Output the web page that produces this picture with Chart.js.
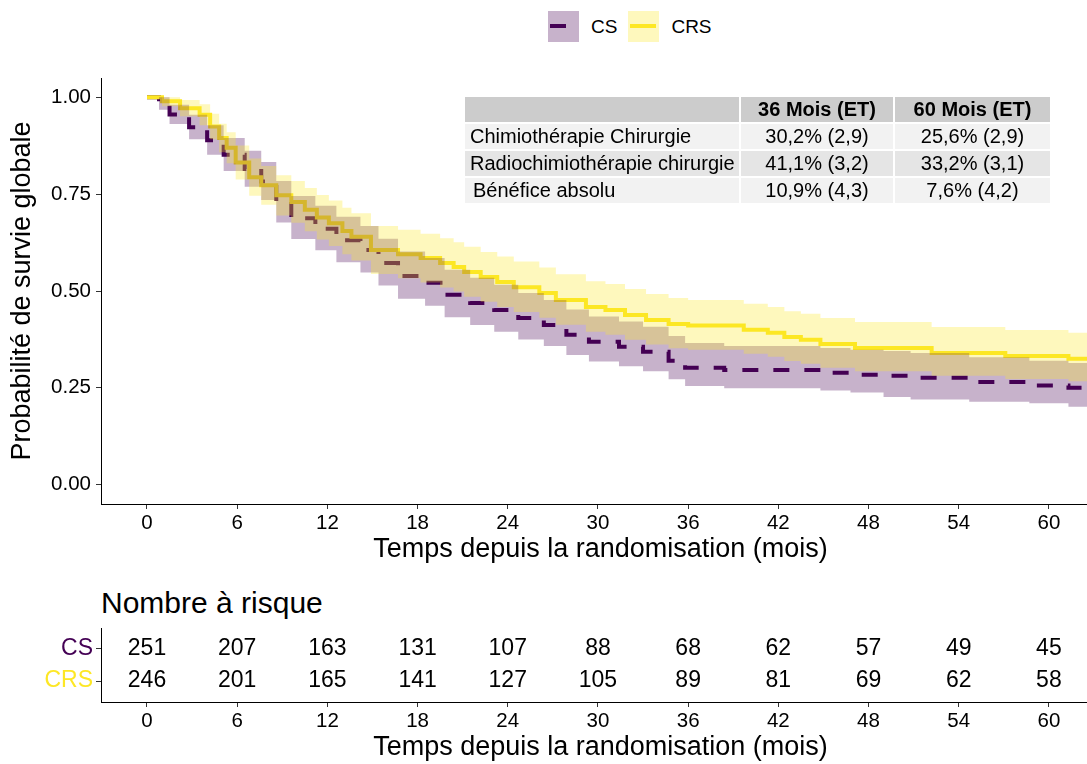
<!DOCTYPE html>
<html>
<head>
<meta charset="utf-8">
<script src="https://cdn.jsdelivr.net/npm/chart.js@4.4.1/dist/chart.umd.min.js"></script>
<style>
  html, body { margin: 0; padding: 0; background: #ffffff; }
  #wrap { position: relative; width: 1087px; height: 764px; overflow: hidden; font-family: "Liberation Sans", Arial, sans-serif; color: #000; }
  canvas { position: absolute; left: 0; }
  #legend { position: absolute; top: 11px; left: 548px; height: 31px; display: flex; align-items: center; font-size: 19px; }
  .key { position: relative; width: 31px; height: 31px; }
  .key span { position: absolute; left: 2px; top: 13px; height: 4px; }
  .lab { margin-left: 12px; margin-right: 11px; }
  #survTable { position: absolute; left: 463px; top: 95px; border-collapse: separate; border-spacing: 2px; table-layout: fixed; font-size: 20px; }
  #survTable td { height: 25px; padding: 0; white-space: nowrap; overflow: visible; line-height: 25px; }
  #survTable td.name { text-align: left; padding-left: 5px; }
  #survTable td.num { text-align: center; }
  #survTable tr.head td { background: #cccccc; font-weight: bold; }
  #riskTitle { position: absolute; left: 101px; top: 585px; font-size: 30px; line-height: 36px; }
</style>
</head>
<body>
<div id="wrap">
  <div id="legend"></div>
  <canvas id="survChart" width="1100" height="570" style="top:0px"></canvas>
  <table id="survTable"></table>
  <div id="riskTitle">Nombre à risque</div>
  <canvas id="riskChart" width="1100" height="184" style="top:580px"></canvas>
</div>
<script>
// Kaplan-Meier estimates (months, survival probability) with 95% confidence limits
const groups = ['CS', 'CRS'];
const groupColors = ['#440154', '#FDE725'];

const csTime  = [0, 0.8, 1.5, 2.8, 4.0, 5.1, 6.5, 7.6, 8.6, 9.6, 11.2, 12.6, 14.2, 15.4, 16.7, 18.5, 19.8, 21.5, 23.1, 24.7, 26.4, 27.9, 29.4, 31.4, 33.0, 34.7, 35.8, 38.4, 44.8, 46.8, 49.0, 50.8, 54.7, 58.7, 61.3, 63.4];
const csSurv  = [1.000, 0.985, 0.956, 0.923, 0.889, 0.852, 0.815, 0.783, 0.729, 0.688, 0.661, 0.631, 0.606, 0.572, 0.539, 0.521, 0.490, 0.469, 0.451, 0.430, 0.412, 0.387, 0.369, 0.356, 0.343, 0.320, 0.302, 0.296, 0.289, 0.284, 0.281, 0.276, 0.265, 0.256, 0.250, 0.250];
const csUpper = [1.000, 1.000, 0.981, 0.955, 0.928, 0.895, 0.862, 0.833, 0.784, 0.745, 0.720, 0.692, 0.668, 0.635, 0.602, 0.585, 0.555, 0.534, 0.516, 0.495, 0.477, 0.452, 0.434, 0.421, 0.408, 0.384, 0.366, 0.358, 0.353, 0.348, 0.345, 0.340, 0.329, 0.320, 0.314, 0.314];
const csLower = [1.000, 0.968, 0.931, 0.892, 0.852, 0.810, 0.769, 0.735, 0.677, 0.634, 0.605, 0.574, 0.548, 0.514, 0.480, 0.462, 0.432, 0.412, 0.395, 0.375, 0.358, 0.335, 0.318, 0.306, 0.293, 0.272, 0.255, 0.249, 0.243, 0.238, 0.226, 0.220, 0.214, 0.210, 0.201, 0.201];

const crsTime  = [0, 1.0, 2.2, 3.5, 4.2, 4.8, 5.3, 5.9, 6.8, 7.6, 8.6, 9.6, 10.5, 11.3, 12.1, 13.0, 13.6, 14.9, 16.7, 18.2, 19.5, 20.4, 21.1, 22.2, 23.3, 24.4, 26.1, 27.2, 29.2, 30.5, 31.8, 33.2, 34.7, 36.0, 39.7, 41.3, 42.4, 43.5, 44.8, 47.1, 52.2, 57.1, 61.3, 63.4];
const crsSurv  = [1.000, 0.990, 0.972, 0.955, 0.925, 0.895, 0.870, 0.832, 0.794, 0.773, 0.747, 0.730, 0.710, 0.690, 0.675, 0.655, 0.640, 0.606, 0.595, 0.585, 0.572, 0.562, 0.549, 0.536, 0.523, 0.510, 0.495, 0.477, 0.459, 0.451, 0.438, 0.425, 0.415, 0.411, 0.400, 0.392, 0.381, 0.374, 0.363, 0.353, 0.340, 0.332, 0.325, 0.325];
const crsUpper = [1.000, 1.000, 0.993, 0.982, 0.958, 0.932, 0.910, 0.876, 0.842, 0.823, 0.799, 0.784, 0.766, 0.748, 0.734, 0.715, 0.701, 0.668, 0.658, 0.648, 0.636, 0.626, 0.614, 0.601, 0.589, 0.576, 0.561, 0.543, 0.525, 0.518, 0.505, 0.492, 0.482, 0.477, 0.467, 0.459, 0.448, 0.441, 0.430, 0.420, 0.407, 0.399, 0.392, 0.392];
const crsLower = [1.000, 0.977, 0.951, 0.928, 0.892, 0.858, 0.830, 0.788, 0.746, 0.723, 0.695, 0.676, 0.654, 0.633, 0.616, 0.595, 0.579, 0.544, 0.533, 0.522, 0.509, 0.499, 0.485, 0.472, 0.459, 0.446, 0.431, 0.413, 0.395, 0.387, 0.374, 0.362, 0.352, 0.348, 0.338, 0.330, 0.319, 0.312, 0.302, 0.293, 0.281, 0.273, 0.267, 0.267];

// Axis ticks
const xTicks = [0, 6, 12, 18, 24, 30, 36, 42, 48, 54, 60];
const yTicks = [0, 0.25, 0.5, 0.75, 1];
const yTickLabels = ['0.00', '0.25', '0.50', '0.75', '1.00'];

// Number at risk
const riskTimes = [0, 6, 12, 18, 24, 30, 36, 42, 48, 54, 60];
const riskCS  = [251, 207, 163, 131, 107, 88, 68, 62, 57, 49, 45];
const riskCRS = [246, 201, 165, 141, 127, 105, 89, 81, 69, 62, 58];

// Survival summary table
const tableHeader = ['', '36 Mois (ET)', '60 Mois (ET)'];
const tableRowNames = ['Chimiothérapie Chirurgie', 'Radiochimiothérapie chirurgie', 'Bénéfice absolu'];
const table36 = ['30,2% (2,9)', '41,1% (3,2)', '10,9% (4,3)'];
const table60 = ['25,6% (2,9)', '33,2% (3,1)', '7,6% (4,2)'];

const xTitle = 'Temps depuis la randomisation (mois)';
const yTitle = 'Probabilité de survie globale';

const FONT = '"Liberation Sans", Arial, sans-serif';
const xMin = -3.06, xMax = 63.4;

const pts = (t, v) => t.map((x, i) => ({ x: x, y: v[i] }));
const ribbon = (t, v, col, fillTo) => ({
  data: pts(t, v), stepped: true, borderWidth: 0, pointRadius: 0,
  backgroundColor: col, fill: fillTo
});

// Legend
const legend = document.getElementById('legend');
[['rgba(68,1,84,0.3)', '#440154', 16], ['rgba(253,231,37,0.3)', '#FDE725', 26]].forEach((k, i) => {
  const key = document.createElement('div');
  key.className = 'key';
  key.style.background = k[0];
  const seg = document.createElement('span');
  seg.style.background = k[1];
  seg.style.width = k[2] + 'px';
  key.appendChild(seg);
  const lab = document.createElement('div');
  lab.className = 'lab';
  lab.textContent = groups[i];
  legend.appendChild(key);
  legend.appendChild(lab);
});

// Table
const tbl = document.getElementById('survTable');
const colW = [269, 152, 155];
const head = document.createElement('tr');
head.className = 'head';
tableHeader.forEach((h, j) => {
  const td = document.createElement('td');
  td.textContent = h;
  td.style.width = colW[j] + 'px';
  td.className = j === 0 ? 'name' : 'num';
  head.appendChild(td);
});
tbl.appendChild(head);
const rowBg = ['#f2f2f2', '#e5e5e5', '#f2f2f2'];
tableRowNames.forEach((n, i) => {
  const tr = document.createElement('tr');
  [n, table36[i], table60[i]].forEach((v, j) => {
    const td = document.createElement('td');
    td.textContent = v;
    td.className = j === 0 ? 'name' : 'num';
    td.style.background = rowBg[i];
    if (j === 0 && i === 2) td.style.paddingLeft = '8px';
    tr.appendChild(td);
  });
  tbl.appendChild(tr);
});

const axisCommon = {
  grid: { display: true, drawOnChartArea: false, drawTicks: true, tickLength: 5, color: '#333333', lineWidth: 1 },
  border: { display: true, color: '#000000', width: 1 }
};

// Survival curves: lines first, confidence ribbons painted over them
new Chart(document.getElementById('survChart'), {
  type: 'line',
  data: {
    datasets: [
      ribbon(crsTime, crsUpper, 'rgba(253,231,37,0.3)', '+1'),
      ribbon(crsTime, crsLower, 'rgba(0,0,0,0)', false),
      ribbon(csTime, csUpper, 'rgba(68,1,84,0.3)', '+1'),
      ribbon(csTime, csLower, 'rgba(0,0,0,0)', false),
      { label: 'CRS', data: pts(crsTime, crsSurv), stepped: true, borderColor: '#FDE725', borderWidth: 4, pointRadius: 0, fill: false },
      { label: 'CS', data: pts(csTime, csSurv), stepped: true, borderColor: '#440154', borderWidth: 4, borderDash: [16, 15], borderCapStyle: 'butt', pointRadius: 0, fill: false }
    ]
  },
  options: {
    responsive: false, animation: false, devicePixelRatio: 1,
    layout: { padding: { top: 78, left: 0, right: 0, bottom: 0 } },
    plugins: { legend: { display: false }, tooltip: { enabled: false }, filler: { drawTime: 'beforeDatasetDraw' } },
    scales: {
      x: Object.assign({}, axisCommon, {
        type: 'linear', min: xMin, max: xMax,
        afterBuildTicks: s => { s.ticks = xTicks.map(v => ({ value: v })); },
        afterFit: s => { s.height = 66; },
        ticks: { color: '#000', font: { family: FONT, size: 20.5 }, padding: 2, maxRotation: 0, autoSkip: false },
        title: { display: true, text: xTitle, color: '#000', font: { family: FONT, size: 27 }, padding: { top: 0, bottom: 4 } }
      }),
      y: Object.assign({}, axisCommon, {
        type: 'linear', min: -0.05, max: 1.05,
        afterBuildTicks: s => { s.ticks = yTicks.map(v => ({ value: v })); },
        afterFit: s => { s.width = 101; },
        ticks: { color: '#000', font: { family: FONT, size: 20.5 }, padding: 5,
                 callback: (v) => yTickLabels[yTicks.indexOf(v)] },
        title: { display: true, text: yTitle, color: '#000', font: { family: FONT, size: 27 }, padding: { top: 6, bottom: 0 } }
      })
    }
  }
});

// Number-at-risk table drawn on the shared time axis
const riskNumbers = {
  id: 'riskNumbers',
  afterDatasetsDraw(chart) {
    const { ctx, scales: { x, y } } = chart;
    ctx.save();
    ctx.font = '23px ' + FONT;
    ctx.fillStyle = '#000';
    ctx.textAlign = 'center';
    ctx.textBaseline = 'middle';
    [[riskCS, 2], [riskCRS, 1]].forEach(([row, pos]) => {
      row.forEach((n, i) => ctx.fillText(String(n), x.getPixelForValue(riskTimes[i]), y.getPixelForValue(pos)));
    });
    ctx.restore();
  }
};

new Chart(document.getElementById('riskChart'), {
  type: 'line',
  data: { datasets: [{ data: [], pointRadius: 0 }] },
  plugins: [riskNumbers],
  options: {
    responsive: false, animation: false, devicePixelRatio: 1,
    layout: { padding: { top: 48, left: 0, right: 0, bottom: 0 } },
    plugins: { legend: { display: false }, tooltip: { enabled: false } },
    scales: {
      x: Object.assign({}, axisCommon, {
        type: 'linear', min: xMin, max: xMax,
        afterBuildTicks: s => { s.ticks = riskTimes.map(v => ({ value: v })); },
        afterFit: s => { s.height = 62; },
        ticks: { color: '#000', font: { family: FONT, size: 20.5 }, padding: 2, maxRotation: 0, autoSkip: false },
        title: { display: true, text: xTitle, color: '#000', font: { family: FONT, size: 27 }, padding: { top: 0, bottom: 0 } }
      }),
      y: Object.assign({}, axisCommon, {
        type: 'linear', min: 0.344, max: 2.656,
        afterBuildTicks: s => { s.ticks = [{ value: 1 }, { value: 2 }]; },
        afterFit: s => { s.width = 101; },
        ticks: { font: { family: FONT, size: 23 }, padding: 3,
                 color: c => c.tick && c.tick.value === 2 ? groupColors[0] : groupColors[1],
                 callback: v => v === 2 ? groups[0] : groups[1] }
      })
    }
  }
});
</script>
</body>
</html>
